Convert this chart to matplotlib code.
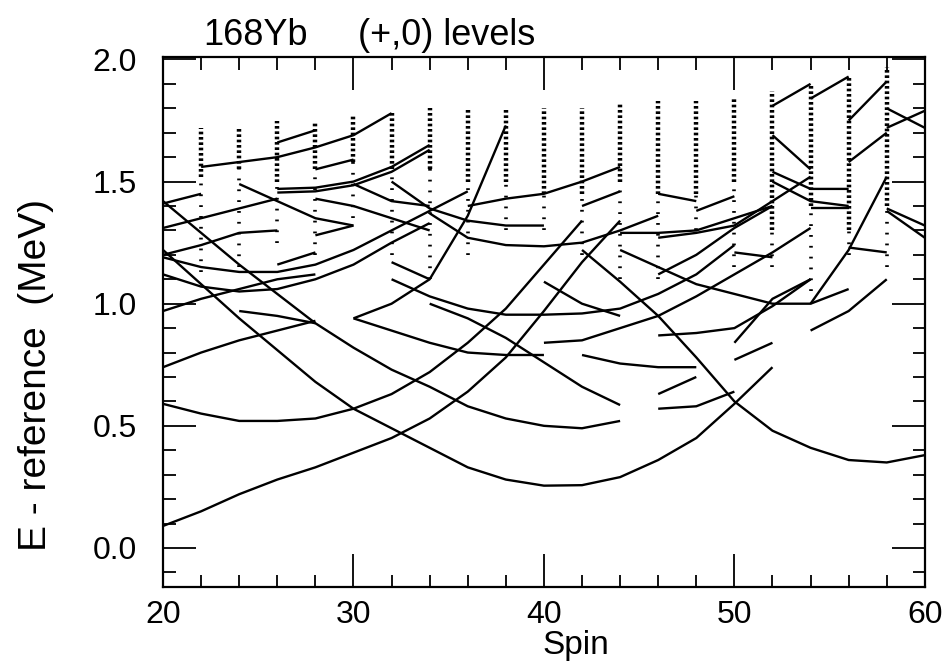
import matplotlib
matplotlib.use("Agg")
import matplotlib.pyplot as plt
import numpy as np
from matplotlib.ticker import MultipleLocator

plt.rcParams["font.family"] = ["Liberation Sans", "DejaVu Sans"]

# calculated levels: (first spin, energies at consecutive even spins)
levels = [
    (20, [1.42, 1.29, 1.16, 1.04, 0.92, 0.82, 0.73, 0.66, 0.58, 0.53, 0.50, 0.49, 0.52]),
    (20, [1.22, 1.08, 0.94, 0.81, 0.68, 0.57, 0.49, 0.41, 0.33, 0.28, 0.255, 0.257, 0.29, 0.36, 0.45, 0.59, 0.74]),
    (20, [0.09, 0.15, 0.22, 0.28, 0.33, 0.39, 0.45, 0.53, 0.64, 0.78, 0.97, 1.17, 1.34]),
    (20, [0.59, 0.55, 0.52, 0.52, 0.53, 0.57, 0.63, 0.72, 0.84, 0.98, 1.16, 1.34]),
    (42, [1.22, 1.09, 0.95, 0.78, 0.60, 0.48, 0.41, 0.36, 0.35, 0.38]),
    (30, [0.94, 0.89, 0.84, 0.80, 0.79, 0.79]),
    (42, [0.79, 0.755, 0.74, 0.74]),
    (30, [0.94, 1.00, 1.10, 1.36, 1.73]),
    (20, [0.74, 0.80, 0.85, 0.89, 0.93]),
    (24, [0.97, 0.95, 0.92]),
    (32, [1.10, 1.03, 0.98, 0.955, 0.955, 0.96, 0.98, 1.04, 1.12, 1.24]),
    (34, [1.37, 1.27, 1.24, 1.235, 1.25, 1.30, 1.36]),
    (32, [1.50, 1.39, 1.34, 1.32, 1.32]),
    (36, [1.40, 1.43, 1.45, 1.50, 1.56]),
    (44, [1.22, 1.15, 1.08, 1.04, 1.00, 1.00, 1.06]),
    (34, [1.00, 0.94, 0.86, 0.76, 0.66, 0.585]),
    (40, [0.84, 0.85, 0.90, 0.95, 1.03, 1.12, 1.21, 1.31]),
    (46, [0.87, 0.88, 0.90, 0.99, 1.10]),
    (46, [1.12, 1.20, 1.31, 1.40]),
    (46, [0.63, 0.70]),
    (46, [0.57, 0.58, 0.64]),
    (50, [0.77, 0.84]),
    (50, [0.84, 1.02, 1.10]),
    (54, [0.89, 0.97, 1.10]),
    (54, [1.00, 1.22, 1.52]),
    (56, [1.23, 1.21]),
    (46, [1.27, 1.29, 1.32, 1.42, 1.52]),
    (44, [1.29, 1.29, 1.30, 1.35, 1.40]),
    (50, [1.21, 1.19]),
    (40, [1.09, 1.00, 0.95]),
    (42, [1.40, 1.46]),
    (46, [1.45, 1.42]),
    (48, [1.38, 1.44]),
    (52, [1.54, 1.47, 1.47]),
    (52, [1.50, 1.42, 1.40]),
    (54, [1.39, 1.39]),
    (52, [1.69, 1.55]),
    (52, [1.81, 1.90]),
    (54, [1.84, 1.93]),
    (56, [1.75, 1.91]),
    (56, [1.58, 1.70]),
    (58, [1.80, 1.72]),
    (58, [1.72, 1.79]),
    (58, [1.39, 1.32]),
    (58, [1.38, 1.27]),
    (22, [1.56, 1.58, 1.60, 1.64, 1.69, 1.78]),
    (26, [1.66, 1.71]),
    (28, [1.55, 1.59]),
    (26, [1.47, 1.475, 1.50, 1.56, 1.65]),
    (26, [1.455, 1.46, 1.485, 1.54, 1.63]),
    (20, [1.41, 1.45]),
    (20, [1.31, 1.35, 1.39, 1.43]),
    (20, [1.20, 1.24, 1.29, 1.30]),
    (20, [1.19, 1.15, 1.13, 1.13, 1.16, 1.22, 1.30, 1.38, 1.46]),
    (20, [1.12, 1.07, 1.05, 1.06, 1.10, 1.16, 1.25, 1.33]),
    (20, [0.97, 1.02, 1.06, 1.10, 1.12]),
    (24, [1.49, 1.42, 1.35, 1.32]),
    (28, [1.43, 1.40, 1.35, 1.30]),
    (30, [1.49, 1.42, 1.40]),
    (28, [1.28, 1.32]),
    (32, [1.17, 1.10]),
    (26, [1.16, 1.21]),
]

# quasi-continuum columns (dotted marks)
col_spins = [22, 24, 26, 28, 30, 32, 34, 36, 38, 40, 42, 44, 46, 48, 50, 52, 54, 56, 58]
col_top = [1.72, 1.72, 1.75, 1.75, 1.77, 1.78, 1.80, 1.80, 1.80, 1.80, 1.80, 1.82, 1.83, 1.83, 1.84, 1.87, 1.90, 1.93, 1.97]
col_dense = [1.52, 1.55, 1.50, 1.55, 1.58, 1.55, 1.55, 1.50, 1.50, 1.45, 1.45, 1.50, 1.45, 1.45, 1.50, 1.30, 1.40, 1.30, 1.40]
col_low = [1.13, 1.15, 1.25, 1.20, 1.35, 1.20, 1.10, 1.20, 1.30, 1.30, 1.20, 1.10, 1.10, 1.30, 1.15, 1.15, 1.05, 1.20, 1.15]

fig = plt.figure(figsize=(9.44, 6.63), dpi=100)
ax = fig.add_axes([0.1727, 0.1146, 0.807, 0.7994])

for start, energies in levels:
    spins = start + 2 * np.arange(len(energies))
    ax.plot(spins, energies, color="black", lw=1.7, solid_capstyle="butt")

ax.vlines(col_spins, col_dense, col_top, colors="black", lw=3.2, linestyles=(0, (0.6, 0.6)))
ax.vlines(col_spins, col_low, col_dense, colors="black", lw=2.6, linestyles=(0, (0.5, 2.5)))

ax.set_xlim(20, 60)
ax.set_ylim(-0.16, 2.01)
ax.xaxis.set_major_locator(MultipleLocator(10))
ax.xaxis.set_minor_locator(MultipleLocator(2))
ax.yaxis.set_major_locator(MultipleLocator(0.5))
ax.yaxis.set_minor_locator(MultipleLocator(0.1))
ax.yaxis.set_major_formatter(plt.FormatStrFormatter("%.1f"))
ax.tick_params(which="both", direction="in", top=True, right=True, width=1.3, labelsize=23)
ax.tick_params(which="major", length=24)
ax.tick_params(which="minor", length=9)
ax.tick_params(axis="x", which="major", pad=9)
ax.tick_params(axis="y", which="major", pad=19)
for s in ax.spines.values():
    s.set_linewidth(1.6)

fig.text(0.610, 0.027, "Spin", fontsize=24, ha="center", va="center")
fig.text(0.038, 0.434, "E - reference  (MeV)", fontsize=28, rotation=90,
         ha="center", va="center")
fig.text(0.215, 0.932, "168Yb", fontsize=26, va="baseline")
fig.text(0.379, 0.932, "(+,0) levels", fontsize=26, va="baseline")

fig.savefig("out.png", dpi=100)
